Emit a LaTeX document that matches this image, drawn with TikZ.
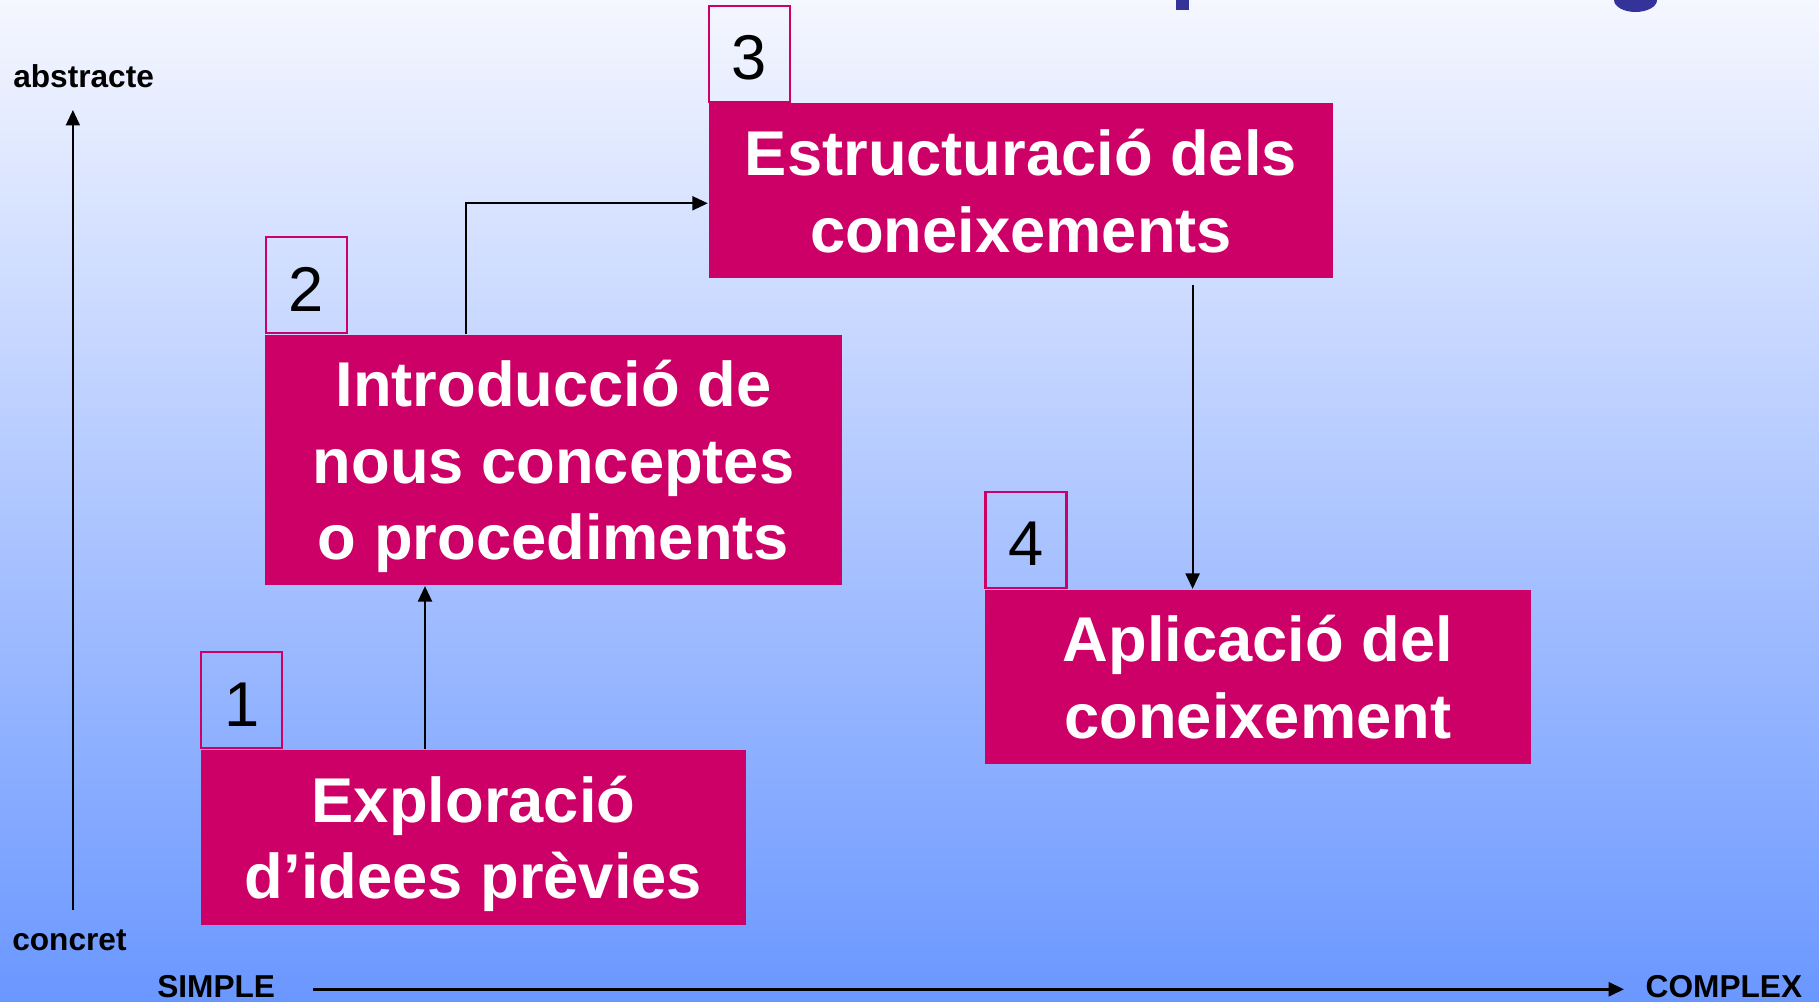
\documentclass[tikz,border=0pt]{standalone}
\usepackage{fontspec}
\setmainfont{Liberation Sans}
\usetikzlibrary{arrows.meta}
\definecolor{bgtop}{RGB}{245,247,255}
\definecolor{bgmid}{RGB}{196,209,255}
\definecolor{bgbot}{RGB}{106,151,255}
\definecolor{magentabox}{RGB}{204,0,102}
\definecolor{titleblue}{RGB}{51,51,153}
\tikzset{
  mainbox/.style={fill=magentabox, draw=none, inner sep=0pt, align=center,
    text=white, font=\fontsize{18}{21.8}\selectfont\bfseries, anchor=north west,
    text depth=0pt},
  numbox/.style={draw=magentabox, line width=0.6pt, inner sep=0pt,
    minimum width=0.81cm, minimum height=0.96cm, anchor=south west,
    font=\fontsize{18}{21.6}\selectfont, text=black, text height=0.52cm, text depth=0pt},
  arr/.style={draw=black, line width=0.6pt, -{Triangle[length=0.155cm, width=0.14cm]}},
  axislabel/.style={font=\fontsize{9}{11}\selectfont\bfseries, text=black, inner sep=0pt, anchor=base west}
}
\begin{document}
\begin{tikzpicture}
\useasboundingbox (0,0) rectangle (18.19,10.02);
\shade[top color=bgtop, middle color=bgmid, bottom color=bgbot] (0,0) rectangle (18.19,10.02);
% title fragments cut off at top
\fill[titleblue] (11.76,9.92) rectangle (11.89,10.02);
\fill[titleblue] (16.14,10.02) arc[start angle=180, end angle=360, x radius=0.215cm, y radius=0.12cm] -- cycle;

% boxes
\node[mainbox, minimum width=5.45cm, minimum height=1.75cm] (b1) at (2.003,2.528) {Exploració\\d’idees prèvies};
\node[numbox] (n1) at (b1.north west) {1};
\node[mainbox, minimum width=5.766cm, minimum height=2.506cm] (b2) at (2.645,6.679) {Introducció de\\nous conceptes\\o procediments};
\node[numbox] (n2) at (b2.north west) {2};
\node[mainbox, minimum width=6.249cm, minimum height=1.75cm, text depth=-0.05cm] (b3) at (7.078,8.993) {Estructuració dels\\coneixements};
\node[numbox] (n3) at (b3.north west) {3};
\node[mainbox, minimum width=5.454cm, minimum height=1.746cm, text depth=-0.06cm] (b4) at (9.844,4.131) {Aplicació del\\coneixement};
\node[numbox] (n4) at (b4.north west) {4};

% connectors
\coordinate (x12) at (4.25,0);
\draw[arr] (x12 |- b1.north) -- (x12 |- b2.south);
\coordinate (x23) at (4.661,7.987);
\draw[arr] (x23 |- b2.north) -- (x23) -- (b3.west |- x23);
\coordinate (x34) at (11.926,7.172);
\draw[arr] (x34) -- (x34 |- b4.north);

% axes
\node[axislabel] (abs) at (0.126,9.147) {abstracte};
\node[axislabel] (con) at (0.116,0.51) {concret};
\node[axislabel] (simple) at (1.566,0.045) {SIMPLE};
\node[axislabel] (complex) at (16.45,0.045) {COMPLEX};
\coordinate (vbot) at (0.729,0.92);
\coordinate (vtop) at (0.729,8.92);
\draw[arr] (vbot) -- (vtop);
\coordinate (hl) at (3.13,0.127);
\coordinate (hr) at (16.24,0.127);
\draw[arr, line width=0.8pt] (hl) -- (hr);
\end{tikzpicture}
\end{document}
